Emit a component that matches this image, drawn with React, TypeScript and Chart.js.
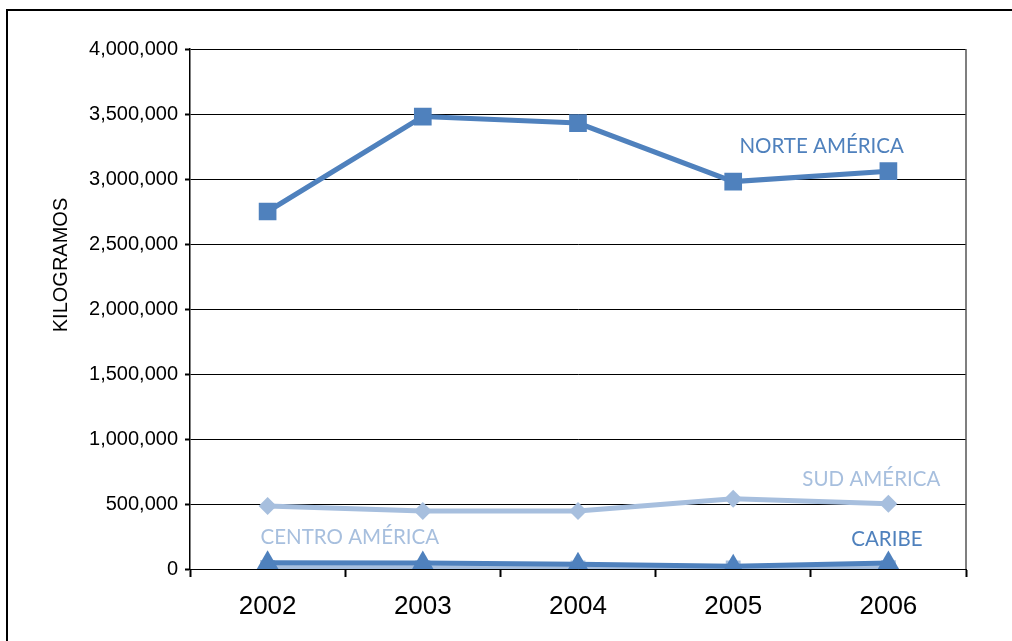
import React, { useEffect, useRef } from 'react';
import { Chart, registerables } from 'chart.js';

Chart.register(...registerables);

const years = ['2002', '2003', '2004', '2005', '2006'];
const norteAmerica = [2750000, 3480000, 3430000, 2980000, 3060000];
const sudAmerica = [485000, 447000, 447000, 540000, 502000];
const caribe = [48000, 46000, 36000, 22000, 46000];
const centroAmerica = [12000, 10000, 8000, 8000, 10000];
const yMax = 4000000;
const yStep = 500000;
const yTitle = 'KILOGRAMOS';

const seriesLabels = ['NORTE AMÉRICA', 'SUD AMÉRICA', 'CENTRO AMÉRICA', 'CARIBE'];
const labelXIndex = [3.57, 3.89, 0.53, 3.99];
const labelYValue = [3250000, 692000, 246000, 231000];

const DARK = '#4F81BD';
const LIGHT = '#A7BFDE';
const labelColors = [DARK, LIGHT, LIGHT, DARK];

const decorPlugin = {
  id: 'decor',
  afterDraw(chart: any) {
    const { ctx, chartArea, scales } = chart;
    const x = scales.x;
    const y = scales.y;
    ctx.save();
    // outer frame
    ctx.strokeStyle = '#000';
    ctx.lineWidth = 2;
    ctx.beginPath();
    ctx.moveTo(7, chart.height + 5);
    ctx.lineTo(7, 10);
    ctx.lineTo(chart.width + 5, 10);
    ctx.stroke();
    // right border of plot
    ctx.strokeStyle = '#555';
    ctx.lineWidth = 1.5;
    ctx.beginPath();
    ctx.moveTo(chartArea.right, chartArea.top);
    ctx.lineTo(chartArea.right, chartArea.bottom);
    ctx.stroke();
    // series labels
    ctx.font = '20.5px Lato';
    ctx.textAlign = 'center';
    ctx.textBaseline = 'middle';
    seriesLabels.forEach((t, i) => {
      ctx.fillStyle = labelColors[i];
      ctx.fillText(t, x.getPixelForValue(labelXIndex[i]), y.getPixelForValue(labelYValue[i]));
    });
    // y title
    ctx.fillStyle = '#000';
    ctx.font = '20px "Liberation Sans"';
    ctx.translate(chartArea.left - 129, 265);
    ctx.rotate(-Math.PI / 2);
    ctx.fillText(yTitle, 0, 0);
    ctx.restore();
  },
};

export default function App() {
  const ref = useRef<HTMLCanvasElement>(null);
  useEffect(() => {
    if (!ref.current) return;
    const mk = (label: string, data: number[], color: string, style: string, r: number, w: number, order: number) => ({
      label,
      data,
      borderColor: color,
      backgroundColor: color,
      pointBackgroundColor: color,
      pointBorderColor: color,
      pointStyle: style,
      pointRadius: r,
      pointBorderWidth: 0,
      borderWidth: w,
      tension: 0,
      order,
    });
    const chart = new Chart(ref.current, {
      type: 'line',
      data: {
        labels: years,
        datasets: [
          mk('NORTE AMÉRICA', norteAmerica, DARK, 'rect', 12.5, 5, 0),
          mk('SUD AMÉRICA', sudAmerica, LIGHT, 'rectRot', 9, 5, 1),
          mk('CARIBE', caribe, DARK, 'triangle', 12.5, 5, 2),
          mk('CENTRO AMÉRICA', centroAmerica, LIGHT, 'rect', 10.5, 5, 3),
        ] as any,
      },
      options: {
        responsive: false,
        animation: false,
        layout: { padding: { left: 0, top: 49, right: 46, bottom: 0 } },
        plugins: { legend: { display: false }, tooltip: { enabled: false } },
        scales: {
          x: {
            offset: true,
            grid: {
              offset: true,
              drawOnChartArea: false,
              drawTicks: true,
              tickLength: 8,
              tickWidth: 2,
              tickColor: '#000',
              color: '#000',
            },
            border: { display: true, color: '#000', width: 1 },
            ticks: { color: '#000', font: { family: 'Liberation Sans', size: 26 }, padding: 14, maxRotation: 0 },
            afterFit: (s: any) => { s.height = 72; },
          },
          y: {
            min: 0,
            max: yMax,
            grid: { color: '#000', lineWidth: 1, tickLength: 5, tickWidth: 2, tickColor: '#000' },
            border: { display: true, color: '#000', width: 1.5 },
            ticks: {
              stepSize: yStep,
              color: '#000',
              padding: 7,
              font: { family: 'Liberation Sans', size: 20 },
              callback: (v: any) => Number(v).toLocaleString('en-US'),
            },
            afterFit: (s: any) => { s.width = 190; },
          },
        },
      },
      plugins: [decorPlugin],
    } as any);
    return () => chart.destroy();
  }, []);
  return (
    <div style={{ position: 'absolute', left: 0, top: 0, width: 1012, height: 641, background: '#fff' }}>
      <canvas ref={ref} width={1012} height={641} style={{ display: 'block' }} />
    </div>
  );
}
